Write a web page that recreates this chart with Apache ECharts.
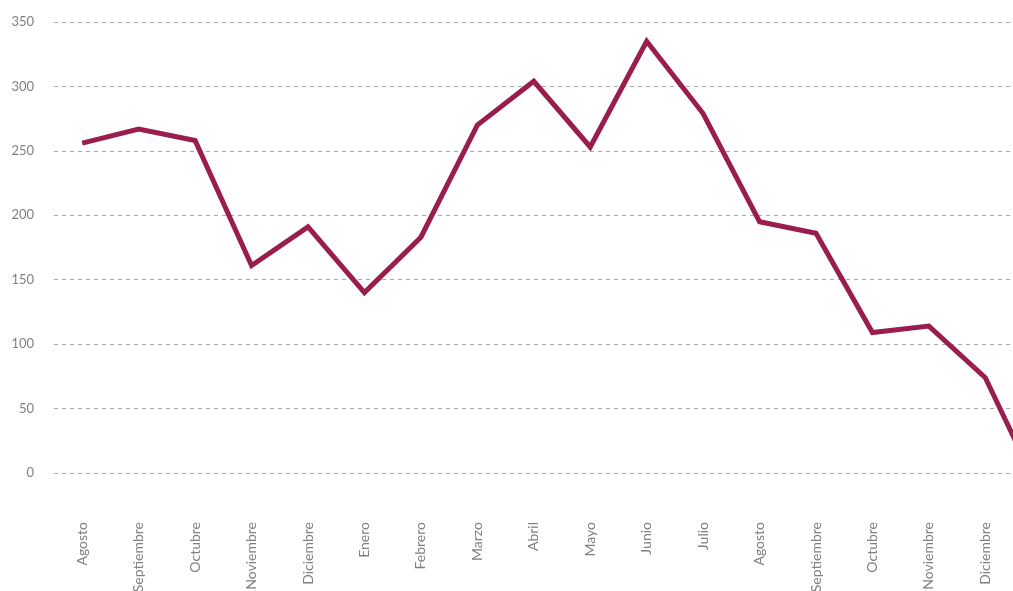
<!DOCTYPE html>
<html>
<head>
<meta charset="utf-8">
<script src="https://cdn.jsdelivr.net/npm/echarts@6/dist/echarts.min.js"></script>
<style>
  html, body { margin: 0; padding: 0; background: #fff; overflow: hidden; }
  /* el gráfico original está recortado por la derecha: el lienzo es más ancho que el marco */
  #frame { position: relative; width: 1013px; height: 591px; overflow: hidden; }
  #chart { position: absolute; left: 0; top: 0; width: 1070px; height: 591px; }
</style>
</head>
<body>
<div id="frame"><div id="chart"></div></div>
<script>
// meses (el último queda fuera del recorte, como en el original)
const months = [
  'Agosto', 'Septiembre', 'Octubre', 'Noviembre', 'Diciembre', 'Enero',
  'Febrero', 'Marzo', 'Abril', 'Mayo', 'Junio', 'Julio',
  'Agosto', 'Septiembre', 'Octubre', 'Noviembre', 'Diciembre', 'Enero'
];

const values = [
  256, 267, 258, 161, 191, 140,
  183, 270, 304, 253, 335, 279,
  195, 186, 109, 114, 74, -18
];

const yTicks = [0, 50, 100, 150, 200, 250, 300, 350];

const chart = echarts.init(document.getElementById('chart'), null, { renderer: 'canvas' });

chart.setOption({
  animation: false,
  textStyle: { fontFamily: 'Lato' },
  grid: {
    left: 54, right: 0, top: 22, bottom: 118,
    containLabel: false,
    outerBoundsMode: 'none'
  },
  xAxis: {
    type: 'category',
    data: months,
    boundaryGap: true,
    axisLine: { show: false },
    axisTick: { show: false },
    axisLabel: {
      rotate: 90,
      margin: 49,
      color: '#808080',
      fontSize: 14,
      fontFamily: 'Lato',
      interval: 0
    }
  },
  yAxis: {
    type: 'value',
    min: yTicks[0],
    max: yTicks[yTicks.length - 1],
    interval: 50,
    axisLine: { show: false },
    axisTick: { show: false },
    axisLabel: {
      margin: 20,
      color: '#808080',
      fontSize: 13,
      fontFamily: 'Lato'
    },
    splitLine: {
      lineStyle: { color: '#aaaaaa', width: 1, type: [4, 4] }
    }
  },
  series: [{
    type: 'line',
    data: values,
    symbol: 'none',
    lineStyle: { color: '#991e4d', width: 5, join: 'miter' },
    itemStyle: { color: '#991e4d' }
  }]
});
</script>
</body>
</html>
